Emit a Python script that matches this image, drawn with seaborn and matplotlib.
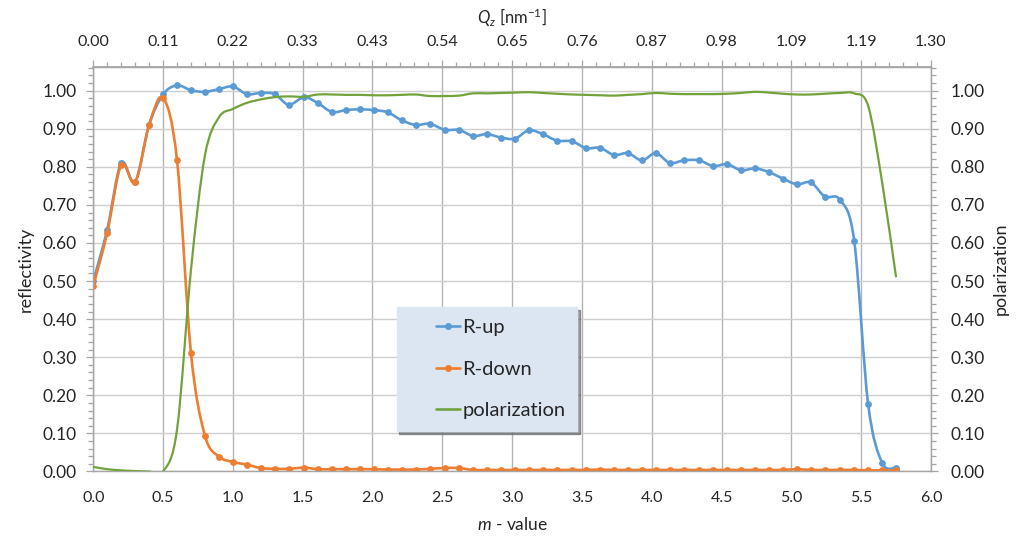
import numpy as np
import matplotlib
matplotlib.use("Agg")
import matplotlib.pyplot as plt
import seaborn as sns
import pandas as pd
from matplotlib.path import Path
from matplotlib.patches import PathPatch
from matplotlib.lines import Line2D
from matplotlib.legend_handler import HandlerLine2D
from matplotlib.ticker import MultipleLocator, FormatStrFormatter

# ---------------- data ----------------
m_value = [0.00, 0.10, 0.20, 0.30, 0.40, 0.50, 0.60, 0.70, 0.80, 0.90, 1.00,
           1.10, 1.20, 1.30, 1.40, 1.51, 1.61, 1.71, 1.81, 1.91, 2.01,
           2.11, 2.21, 2.31, 2.41, 2.52, 2.62, 2.72, 2.82, 2.92, 3.02,
           3.12, 3.22, 3.32, 3.43, 3.53, 3.63, 3.73, 3.83, 3.93, 4.03,
           4.13, 4.23, 4.34, 4.44, 4.54, 4.64, 4.74, 4.84, 4.94, 5.04,
           5.14, 5.24, 5.35, 5.45, 5.55, 5.65, 5.75]

r_up = [0.500, 0.635, 0.810, 0.760, 0.910, 0.990, 1.014, 1.001, 0.997, 1.004, 1.011,
        0.991, 0.994, 0.991, 0.963, 0.983, 0.967, 0.944, 0.949, 0.951, 0.949,
        0.943, 0.922, 0.910, 0.913, 0.897, 0.897, 0.881, 0.886, 0.877, 0.874,
        0.896, 0.886, 0.869, 0.867, 0.849, 0.850, 0.831, 0.836, 0.817, 0.836,
        0.810, 0.817, 0.817, 0.802, 0.807, 0.791, 0.796, 0.786, 0.769, 0.754,
        0.759, 0.722, 0.713, 0.606, 0.177, 0.023, 0.010]

r_down = [0.487, 0.627, 0.805, 0.760, 0.910, 0.981, 0.817, 0.310, 0.094, 0.039, 0.025,
          0.018, 0.009, 0.007, 0.007, 0.010, 0.006, 0.006, 0.006, 0.006, 0.006,
          0.005, 0.005, 0.005, 0.007, 0.009, 0.009, 0.004, 0.004, 0.004, 0.004,
          0.004, 0.004, 0.004, 0.004, 0.004, 0.005, 0.004, 0.004, 0.004, 0.004,
          0.004, 0.004, 0.004, 0.004, 0.004, 0.004, 0.004, 0.004, 0.004, 0.006,
          0.004, 0.004, 0.004, 0.004, 0.003, 0.003, 0.003]

polarization = [0.012, 0.006, 0.003, 0.001, 0.000, 0.000, 0.110, 0.530, 0.830, 0.930, 0.952,
                0.968, 0.977, 0.983, 0.985, 0.984, 0.990, 0.990, 0.989, 0.989, 0.988,
                0.988, 0.989, 0.990, 0.986, 0.986, 0.987, 0.993, 0.993, 0.994, 0.995,
                0.996, 0.994, 0.992, 0.990, 0.989, 0.988, 0.987, 0.989, 0.991, 0.994,
                0.992, 0.991, 0.991, 0.991, 0.992, 0.994, 0.997, 0.995, 0.992, 0.990,
                0.990, 0.992, 0.994, 0.993, 0.960, 0.760, 0.510]

m_ticks = [0.0, 0.5, 1.0, 1.5, 2.0, 2.5, 3.0, 3.5, 4.0, 4.5, 5.0, 5.5, 6.0]
qz_labels = ["0.00", "0.11", "0.22", "0.33", "0.43", "0.54", "0.65",
             "0.76", "0.87", "0.98", "1.09", "1.19", "1.30"]

df = pd.DataFrame({"m": m_value, "R-up": r_up, "R-down": r_down,
                   "polarization": polarization})

# ---------------- style ----------------
sns.set_theme(style="white")
plt.rcParams['font.family'] = ['Lato', 'DejaVu Sans']
plt.rcParams['mathtext.fontset'] = 'custom'
plt.rcParams['mathtext.rm'] = 'Lato'
plt.rcParams['mathtext.it'] = 'Lato:italic'

BLUE = "#5b9bd5"
ORANGE = "#ed7d31"
GREEN = "#72a33a"
AXC = "#a6a6a6"
TXT = "#262626"


def smooth_path(x, y):
    """Excel-like smoothed line: Catmull-Rom segments as cubic Beziers."""
    x = np.asarray(x, float)
    y = np.asarray(y, float)
    n = len(x)
    verts = [(x[0], y[0])]
    codes = [Path.MOVETO]
    for i in range(n - 1):
        xa, ya = (x[i - 1], y[i - 1]) if i > 0 else (x[i], y[i])
        xb, yb = (x[i + 2], y[i + 2]) if i + 2 < n else (x[i + 1], y[i + 1])
        c1 = (x[i] + (x[i + 1] - xa) / 6, y[i] + (y[i + 1] - ya) / 6)
        c2 = (x[i + 1] - (xb - x[i]) / 6, y[i + 1] - (yb - y[i]) / 6)
        verts += [c1, c2, (x[i + 1], y[i + 1])]
        codes += [Path.CURVE4] * 3
    return Path(verts, codes)


fig = plt.figure(figsize=(10.17, 5.4), dpi=100)
ax = fig.add_axes([0.0917, 0.1269, 0.8237, 0.7496])
ax2 = ax.twinx()

YMAX = 1.063
for a in (ax, ax2):
    a.set_xlim(0, 6.0)
    a.set_ylim(0, YMAX)

# grid
ax.xaxis.set_major_locator(MultipleLocator(0.5))
ax.xaxis.set_minor_locator(MultipleLocator(0.1))
ax.yaxis.set_major_locator(MultipleLocator(0.1))
ax.yaxis.set_minor_locator(MultipleLocator(0.02))
ax.grid(True, which="major", axis="x", color="#b4b4b4", linewidth=1.0)
ax.grid(True, which="major", axis="y", color="#cfcfcf", linewidth=1.0)
ax.set_axisbelow(True)

# data lines (smoothed) + markers
ax.add_patch(PathPatch(smooth_path(df["m"], df["R-up"]), fill=False,
                       edgecolor=BLUE, lw=1.9, zorder=3, capstyle="round"))
sns.scatterplot(data=df, x="m", y="R-up", ax=ax, color=BLUE, s=24,
                linewidth=0, zorder=4, legend=False)
ax.add_patch(PathPatch(smooth_path(df["m"], df["R-down"]), fill=False,
                       edgecolor=ORANGE, lw=1.9, zorder=5, capstyle="round"))
sns.scatterplot(data=df, x="m", y="R-down", ax=ax, color=ORANGE, s=24,
                linewidth=0, zorder=6, legend=False)
ax2.add_patch(PathPatch(smooth_path(df["m"], df["polarization"]), fill=False,
                        edgecolor=GREEN, lw=1.6, zorder=3))
ax2.set_ylim(0, YMAX)
ax.set_xlim(0, 6.0)

# ticks / spines
ax.yaxis.set_major_formatter(FormatStrFormatter("%.2f"))
ax.xaxis.set_major_formatter(FormatStrFormatter("%.1f"))
ax2.yaxis.set_major_locator(MultipleLocator(0.1))
ax2.yaxis.set_minor_locator(MultipleLocator(0.02))
ax2.yaxis.set_major_formatter(FormatStrFormatter("%.2f"))

for a in (ax, ax2):
    for s in a.spines.values():
        s.set_color(AXC)
        s.set_linewidth(0.9)
ax.spines["top"].set_visible(True)

ax.tick_params(axis="both", which="both", direction="out", color=AXC,
               labelsize=11.5, labelcolor=TXT, width=0.9)
ax.tick_params(axis="y", which="both", labelsize=12.5)
ax.tick_params(axis="both", which="major", length=5, pad=7)
ax.tick_params(axis="both", which="minor", length=3.5)
ax.tick_params(axis="x", which="major", pad=9)
ax2.tick_params(axis="y", which="both", direction="out", color=AXC,
                labelsize=12.5, labelcolor=TXT, width=0.9)
ax2.tick_params(axis="y", which="major", length=5, pad=9)
ax2.tick_params(axis="y", which="minor", length=3.5)

secax = ax.secondary_xaxis("top")
secax.set_xticks(m_ticks, labels=qz_labels)
secax.xaxis.set_minor_locator(MultipleLocator(0.1))
secax.tick_params(axis="x", which="both", direction="out", color=AXC,
                  labelsize=11.5, labelcolor=TXT, width=0.9)
secax.tick_params(axis="x", which="major", length=5, pad=8)
secax.tick_params(axis="x", which="minor", length=3.5)
secax.spines["top"].set_color(AXC)
secax.set_xlabel(r"$Q_z$ [nm$^{-1}$]", fontsize=12, color=TXT, labelpad=8)

ax.set_xlabel(r"$m$ - value", fontsize=12.5, color=TXT, labelpad=8)
ax.set_ylabel("reflectivity", fontsize=13, color=TXT, labelpad=6)
ax2.set_ylabel("polarization", fontsize=13, color=TXT, labelpad=6)

# legend
handles = [Line2D([], [], color=BLUE, lw=1.9, marker="o", markersize=4),
           Line2D([], [], color=ORANGE, lw=1.9, marker="o", markersize=4),
           Line2D([], [], color=GREEN, lw=1.9)]
hmap = {h: HandlerLine2D(xpad=1.36) for h in handles}
leg = ax2.legend(handles, ["R-up", "R-down", "polarization"],
                 handler_map=hmap,
                 loc="upper left", bbox_to_anchor=(0.390, 0.431),
                 bbox_transform=fig.transFigure, borderaxespad=0,
                 fontsize=14.5, frameon=True, fancybox=False, shadow=True,
                 facecolor="#dce6f2", edgecolor="#dce6f2", framealpha=1,
                 handlelength=2.56, handletextpad=0.1, labelspacing=1.2,
                 borderpad=0.6)
for t in leg.get_texts():
    t.set_color(TXT)
leg.set_zorder(10)

fig.savefig("out.png", dpi=100)
